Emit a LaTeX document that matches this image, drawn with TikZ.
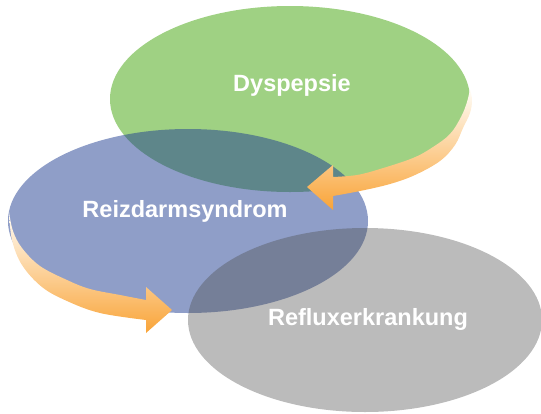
\documentclass[tikz,border=0pt]{standalone}
\usepackage{fontspec}
\setmainfont{Liberation Sans}
\definecolor{greenfill}{RGB}{159,209,131}
\definecolor{bluebase}{RGB}{31,61,145}
\definecolor{graybase}{RGB}{76,76,76}
\definecolor{arrowtop}{RGB}{255,253,248}
\definecolor{arrowmid}{RGB}{253,226,188}
\definecolor{arrowbot}{RGB}{249,164,56}
\tikzset{
  label/.style={text=white, font=\bfseries\fontsize{23.5}{28}\selectfont, inner sep=0pt, anchor=base},
  band/.style={top color=arrowtop, middle color=arrowmid, bottom color=arrowbot, draw=none},
}
\begin{document}
\begin{tikzpicture}[x=1pt,y=-1pt]
\useasboundingbox (0,0) rectangle (541,413);
\coordinate (gc) at (290,99);
\coordinate (bc) at (188,221);
\coordinate (rc) at (365,320);
% green ellipse
\fill[greenfill] (gc) ellipse [x radius=180pt, y radius=93pt];
% blue ellipse
\fill[bluebase, fill opacity=0.5] (bc) ellipse [x radius=180pt, y radius=92pt];
% green arrow band
\shade[band]
  plot[smooth, tension=0.6] coordinates {(470,89) (472,100) (470,113) (463,128) (455,145) (440,161) (415,175) (390,184) (360,191) (333,196)}
  -- (333,210) -- (307,187) -- (333,165) -- (333,177)
  -- plot[smooth, tension=0.6] coordinates {(333,177) (357,175) (380,169) (413,158) (433,147) (450,134) (461,117) (467,102) (470,89)}
  -- cycle;
% blue arrow band
\shade[band]
  plot[smooth, tension=0.6] coordinates {(9,212) (12,240) (22,265) (42,287) (67,301) (100,313) (146,320)}
  -- (146,333) -- (172,310) -- (146,287) -- (146,300)
  -- plot[smooth, tension=0.6] coordinates {(146,300) (120,295) (90,289) (67,280) (40,266) (22,248) (13,231) (9,212)}
  -- cycle;
% gray ellipse
\fill[graybase, fill opacity=0.38] (rc) ellipse [x radius=177pt, y radius=92pt];
% labels
\node[label] (dys) at (292,91) {Dyspepsie};
\node[label] (rds) at (185,217) {Reizdarmsyndrom};
\node[label] (ref) at (368,325) {Refluxerkrankung};
\end{tikzpicture}
\end{document}
